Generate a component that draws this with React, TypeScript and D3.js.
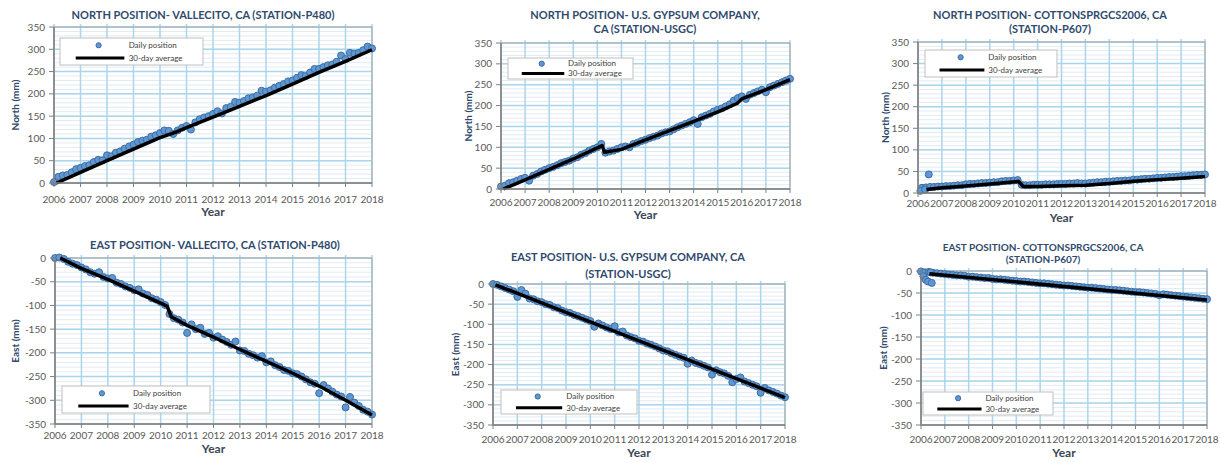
import React from 'react';
import * as d3 from 'd3';

// ---- Axis labels -------------------------------------------------------
const YEAR_TICKS = [2006, 2007, 2008, 2009, 2010, 2011, 2012, 2013, 2014, 2015, 2016, 2017, 2018];
const NORTH_TICKS = [0, 50, 100, 150, 200, 250, 300, 350];
const EAST_TICKS = [0, -50, -100, -150, -200, -250, -300, -350];

// Daily positions are sampled every two months from 2006.0 to 2018.0 (73 samples).
const SAMPLES_PER_YEAR = 6;

// ---- Station P480 (Vallecito) -----------------------------------------
const p480North = [
  2, 14, 17, 18, 24, 31, 34, 38, 40, 47, 52, 51, 62, 60, 68, 71, 77, 82, 86, 92, 95, 97, 104, 107,
  112, 118, 117, 110, 118, 124, 128, 120, 136, 143, 147, 150, 155, 161, 156, 168, 171, 182, 180, 184,
  190, 192, 196, 207, 205, 208, 214, 218, 222, 228, 230, 236, 242, 240, 248, 256, 256, 260, 264, 266,
  272, 286, 278, 292, 290, 292, 298, 306, 302,
];
const p480NorthAvg: [number, number][] = [
  [2006.1, 0], [2007, 24], [2008, 50], [2009, 76], [2010, 102], [2010.5, 112], [2011, 124], [2012, 148],
  [2013, 172], [2014, 196], [2015, 222], [2016, 248], [2017, 273], [2018, 299],
];
const p480East = [
  0, 1, -2, -8, -12, -15, -20, -24, -30, -33, -30, -40, -43, -42, -52, -55, -60, -63, -68, -66, -75, -78,
  -85, -88, -93, -99, -118, -127, -130, -136, -158, -140, -150, -147, -160, -158, -168, -165, -172, -177,
  -183, -176, -195, -196, -202, -205, -210, -207, -220, -218, -226, -230, -236, -238, -243, -245, -250,
  -256, -262, -265, -285, -268, -275, -282, -288, -292, -315, -293, -305, -312, -320, -324, -330,
];
const p480EastAvg: [number, number][] = [
  [2006.2, 0], [2007, -22], [2008, -45], [2009, -70], [2010, -95], [2010.25, -102], [2010.4, -124],
  [2011, -142], [2012, -167], [2013, -193], [2014, -218], [2015, -243], [2016, -270], [2017, -300],
  [2018, -331],
];

// ---- Station USGC (U.S. Gypsum Company) --------------------------------
const usgcNorth = [
  6, 8, 14, 16, 20, 24, 27, 20, 32, 36, 42, 46, 50, 53, 57, 62, 65, 68, 73, 76, 82, 86, 92, 96, 100, 108,
  87, 90, 92, 96, 100, 102, 100, 108, 111, 115, 118, 122, 125, 128, 133, 136, 138, 143, 148, 152, 156,
  160, 165, 156, 172, 176, 180, 186, 190, 193, 198, 203, 212, 218, 222, 216, 226, 230, 234, 238, 232,
  244, 248, 252, 256, 260, 264,
];
const usgcNorthAvg: [number, number][] = [
  [2006.1, 0], [2007, 22], [2008, 47], [2009, 72], [2010.2, 104], [2010.3, 88], [2011, 95], [2012, 118],
  [2013, 140], [2014, 162], [2015, 185], [2015.8, 205], [2016, 216], [2017, 238], [2018, 262],
];
const usgcEast = [
  0, -2, -6, -10, -14, -18, -32, -15, -24, -36, -38, -43, -45, -50, -52, -58, -60, -66, -70, -72, -77,
  -80, -84, -88, -92, -106, -98, -103, -108, -112, -105, -120, -118, -128, -132, -135, -141, -143, -148,
  -151, -155, -160, -165, -167, -172, -176, -180, -183, -198, -190, -196, -199, -203, -207, -225, -214,
  -219, -222, -228, -244, -236, -232, -242, -246, -250, -254, -270, -258, -264, -268, -272, -277, -281,
];
const usgcEastAvg: [number, number][] = [
  [2006.1, -2], [2008, -47], [2010, -94], [2012, -141], [2014, -188], [2016, -235], [2018, -282],
];

// ---- Station P607 (Cottonsprgcs2006) -----------------------------------
const p607North = [
  null, 12, 13, 14, 14, 15, 15, 16, 16, 17, 18, 18, 20, 21, 21, 22, 23, 23, 24, 25, 25, 27, 28, 28, 29,
  30, 19, 18, 18, 19, 19, 19, 20, 20, 20, 21, 21, 21, 22, 22, 23, 22, 22, 23, 24, 25, 25, 26, 26, 27, 28,
  28, 29, 29, 31, 31, 32, 33, 33, 34, 35, 35, 36, 37, 37, 38, 39, 39, 40, 41, 42, 42, 43,
];
const p607NorthExtra: [number, number][] = [[2006.1, 5], [2006.3, 8], [2006.45, 43]];
const p607NorthAvg: [number, number][] = [
  [2006.35, 8], [2007, 12], [2008, 16], [2009, 21], [2010.2, 27], [2010.4, 15], [2011, 15], [2012, 17],
  [2013, 18], [2014, 22], [2015, 27], [2016, 31], [2017, 34], [2018, 38],
];
const p607East = [
  -1, -3, -2, -4, -5, -6, -7, -8, -9, -10, -10, -11, -13, -13, -14, -15, -16, -16, -18, -19, -19, -20,
  -21, -22, -23, -24, -24, -25, -26, -27, -28, -28, -29, -30, -31, -32, -33, -33, -34, -35, -36, -37,
  -38, -38, -39, -40, -41, -42, -43, -43, -44, -45, -46, -47, -48, -48, -49, -50, -51, -52, -55, -53,
  -54, -55, -56, -57, -58, -59, -60, -61, -62, -63, -64,
];
const p607EastExtra: [number, number][] = [[2006.1, -12], [2006.2, -20], [2006.3, -24], [2006.4, -3], [2006.45, -27]];
const p607EastAvg: [number, number][] = [[2006.35, -6], [2018, -66]];

type Legend = { x: number; y: number; w: number; h: number };
type PanelCfg = {
  title: string[];
  titleY: number[];
  titleX: number;
  titleSize: number;
  x0: number; x1: number; yTop: number; yBot: number;
  domain: [number, number];
  ticks: number[];
  yLabel: string;
  yLabelX: number;
  tickY: number;
  yearY: number;
  legend: Legend;
  daily: (number | null)[];
  extra: [number, number][];
  avg: [number, number][];
};

const panels: PanelCfg[] = [
  {
    title: ['NORTH POSITION- VALLECITO, CA (STATION-P480)'], titleY: [15], titleX: 203, titleSize: 11,
    x0: 54, x1: 372, yTop: 27, yBot: 183, domain: [0, 350], ticks: NORTH_TICKS,
    yLabel: 'North (mm)', yLabelX: 15, tickY: 199, yearY: 212,
    legend: { x: 60, y: 38, w: 143, h: 27 },
    daily: p480North, extra: [], avg: p480NorthAvg,
  },
  {
    title: ['EAST POSITION- VALLECITO, CA (STATION-P480)'], titleY: [245], titleX: 215, titleSize: 11,
    x0: 55, x1: 372, yTop: 258, yBot: 424, domain: [-350, 0], ticks: EAST_TICKS,
    yLabel: 'East (mm)', yLabelX: 15, tickY: 435, yearY: 449,
    legend: { x: 62, y: 386, w: 148, h: 27 },
    daily: p480East, extra: [], avg: p480EastAvg,
  },
  {
    title: ['NORTH POSITION- U.S. GYPSUM COMPANY,', 'CA (STATION-USGC)'], titleY: [15, 29], titleX: 645, titleSize: 11,
    x0: 501, x1: 790, yTop: 43, yBot: 189, domain: [0, 350], ticks: NORTH_TICKS,
    yLabel: 'North (mm)', yLabelX: 468, tickY: 202, yearY: 215,
    legend: { x: 508, y: 58, w: 125, h: 21 },
    daily: usgcNorth, extra: [], avg: usgcNorthAvg,
  },
  {
    title: ['EAST POSITION- U.S. GYPSUM COMPANY, CA', '(STATION-USGC)'], titleY: [257, 274], titleX: 628, titleSize: 11,
    x0: 493, x1: 785, yTop: 284, yBot: 425, domain: [-350, 0], ticks: EAST_TICKS,
    yLabel: 'East (mm)', yLabelX: 455, tickY: 439, yearY: 453,
    legend: { x: 501, y: 390, w: 136, h: 24 },
    daily: usgcEast, extra: [], avg: usgcEastAvg,
  },
  {
    title: ['NORTH POSITION- COTTONSPRGCS2006, CA', '(STATION-P607)'], titleY: [15, 29], titleX: 1050, titleSize: 11,
    x0: 918, x1: 1205, yTop: 42, yBot: 193, domain: [0, 350], ticks: NORTH_TICKS,
    yLabel: 'North (mm)', yLabelX: 885, tickY: 203, yearY: 218,
    legend: { x: 925, y: 50, w: 132, h: 27 },
    daily: p607North, extra: p607NorthExtra, avg: p607NorthAvg,
  },
  {
    title: ['EAST POSITION- COTTONSPRGCS2006, CA', '(STATION-P607)'], titleY: [247, 259], titleX: 1043, titleSize: 10,
    x0: 921, x1: 1207, yTop: 271, yBot: 425, domain: [-350, 0], ticks: EAST_TICKS,
    yLabel: 'East (mm)', yLabelX: 883, tickY: 439, yearY: 453,
    legend: { x: 923, y: 392, w: 130, h: 23 },
    daily: p607East, extra: p607EastExtra, avg: p607EastAvg,
  },
];

const FONT = 'Lato, "Open Sans", sans-serif';
const TITLE_COLOR = '#2f4a6d';
const TICK_COLOR = '#595959';
const MAJOR_GRID = '#a9d6ec';
const MINOR_GRID = '#e2ebf2';
const POINT_FILL = '#5f97d2';
const POINT_STROKE = '#3d6da3';
const POINT_R = 3.5;

function Panel({ cfg }: { cfg: PanelCfg }) {
  const x = d3.scaleLinear().domain([2006, 2018]).range([cfg.x0, cfg.x1]);
  const y = d3.scaleLinear().domain(cfg.domain).range([cfg.yBot, cfg.yTop]);
  const minor = d3.range(cfg.domain[0], cfg.domain[1] + 1, 10);
  const line = d3.line<[number, number]>().x((d) => x(d[0])).y((d) => y(d[1]));

  const pts: [number, number][] = [];
  cfg.daily.forEach((v, k) => {
    if (v !== null) pts.push([2006 + k / SAMPLES_PER_YEAR, v]);
  });
  cfg.extra.forEach((p) => pts.push(p));

  const lg = cfg.legend;
  const midY = (cfg.yTop + cfg.yBot) / 2;

  return (
    <g>
      {/* minor horizontal grid */}
      {minor.map((v) => (
        <line key={'m' + v} x1={cfg.x0} x2={cfg.x1} y1={y(v)} y2={y(v)} stroke={MINOR_GRID} strokeWidth={1} />
      ))}
      {/* major grid */}
      {cfg.ticks.map((v) => (
        <line key={'h' + v} x1={cfg.x0} x2={cfg.x1} y1={y(v)} y2={y(v)} stroke={MAJOR_GRID} strokeWidth={1.5} />
      ))}
      {YEAR_TICKS.map((yr) => (
        <line key={'v' + yr} x1={x(yr)} x2={x(yr)} y1={cfg.yTop - 3} y2={cfg.yBot} stroke={MAJOR_GRID} strokeWidth={1.5} />
      ))}
      {/* frame */}
      <rect x={cfg.x0} y={cfg.yTop} width={cfg.x1 - cfg.x0} height={cfg.yBot - cfg.yTop} fill="none" stroke="#a6a6a6" strokeWidth={1} />
      {/* daily positions */}
      {pts.map((p, i) => (
        <circle key={'p' + i} cx={x(p[0])} cy={y(p[1])} r={POINT_R} fill={POINT_FILL} stroke={POINT_STROKE} strokeWidth={1} />
      ))}
      {/* 30-day average */}
      <path d={line(cfg.avg) || ''} fill="none" stroke="#000" strokeWidth={3.5} strokeLinejoin="round" />
      {/* axes */}
      <line x1={cfg.x0} x2={cfg.x0} y1={cfg.yTop} y2={cfg.yBot} stroke="#7f7f7f" strokeWidth={1.5} />
      <line x1={cfg.x0} x2={cfg.x1} y1={cfg.yBot} y2={cfg.yBot} stroke="#7f7f7f" strokeWidth={1.5} />
      {cfg.ticks.map((v) => (
        <g key={'yt' + v}>
          <line x1={cfg.x0 - 5} x2={cfg.x0} y1={y(v)} y2={y(v)} stroke="#7f7f7f" strokeWidth={1} />
          <text x={cfg.x0 - 9} y={y(v)} dy="0.35em" textAnchor="end" fontSize={10} fill={TICK_COLOR} fontFamily={FONT}>
            {v}
          </text>
        </g>
      ))}
      {YEAR_TICKS.map((yr) => (
        <g key={'xt' + yr}>
          <line x1={x(yr)} x2={x(yr)} y1={cfg.yBot} y2={cfg.yBot + 4} stroke="#7f7f7f" strokeWidth={1} />
          <text x={x(yr)} y={cfg.tickY} dy="0.35em" textAnchor="middle" fontSize={10} fill={TICK_COLOR} fontFamily={FONT}>
            {yr}
          </text>
        </g>
      ))}
      {/* titles */}
      {cfg.title.map((t, i) => (
        <text key={'t' + i} x={cfg.titleX} y={cfg.titleY[i]} dy="0.35em" textAnchor="middle" fontSize={cfg.titleSize}
          fontWeight="bold" fill={TITLE_COLOR} fontFamily={FONT}>
          {t}
        </text>
      ))}
      <text x={(cfg.x0 + cfg.x1) / 2} y={cfg.yearY} dy="0.35em" textAnchor="middle" fontSize={12} fontWeight="bold"
        fill="#3b4656" fontFamily={FONT}>
        Year
      </text>
      <text transform={`translate(${cfg.yLabelX},${midY}) rotate(-90)`} dy="0.35em" textAnchor="middle" fontSize={10}
        fontWeight="bold" fill={TITLE_COLOR} fontFamily={FONT}>
        {cfg.yLabel}
      </text>
      {/* legend */}
      <rect x={lg.x} y={lg.y} width={lg.w} height={lg.h} fill="#fff" stroke="#bfbfbf" strokeWidth={1} />
      <circle cx={lg.x + lg.w * 0.27} cy={lg.y + lg.h * 0.27} r={2.6} fill={POINT_FILL} stroke={POINT_STROKE} strokeWidth={1} />
      <text x={lg.x + lg.w * 0.48} y={lg.y + lg.h * 0.27} dy="0.35em" fontSize={8} fill="#404040" fontFamily={FONT}>
        Daily position
      </text>
      <line x1={lg.x + lg.w * 0.11} x2={lg.x + lg.w * 0.45} y1={lg.y + lg.h * 0.74} y2={lg.y + lg.h * 0.74} stroke="#000" strokeWidth={3} />
      <text x={lg.x + lg.w * 0.48} y={lg.y + lg.h * 0.74} dy="0.35em" fontSize={8} fill="#404040" fontFamily={FONT}>
        30-day average
      </text>
    </g>
  );
}

export default function App() {
  return (
    <svg width={1220} height={462} style={{ position: 'absolute', left: 0, top: 0, background: '#fff' }}>
      <rect width={1220} height={462} fill="#fff" />
      {panels.map((p, i) => (
        <Panel key={i} cfg={p} />
      ))}
    </svg>
  );
}
